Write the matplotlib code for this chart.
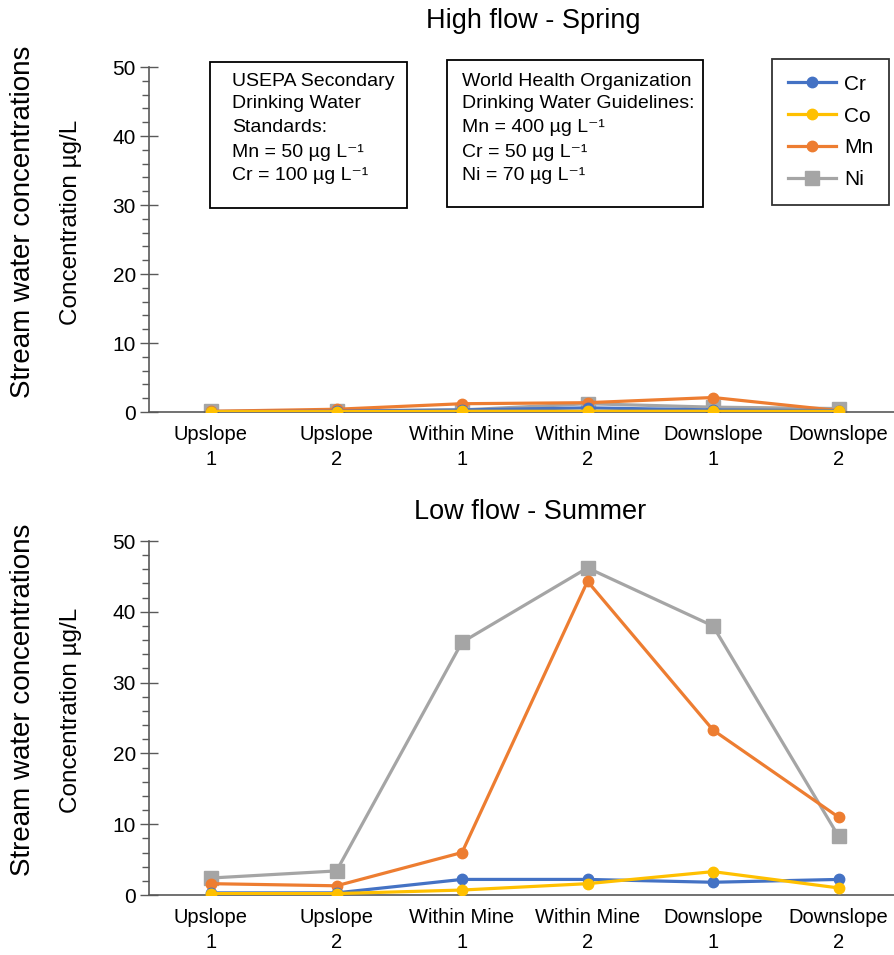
import matplotlib
matplotlib.use('Agg')
import matplotlib.pyplot as plt
from matplotlib.patches import Rectangle
from matplotlib.lines import Line2D

plt.rcParams['font.family'] = ['Liberation Sans', 'DejaVu Sans']

# sampling sites
sites = ['Upslope\n1', 'Upslope\n2', 'Within Mine\n1', 'Within Mine\n2',
         'Downslope\n1', 'Downslope\n2']

# high flow - spring (ug/L)
spring_cr = [0.05, 0.1, 0.3, 0.6, 0.3, 0.2]
spring_co = [0.05, 0.05, 0.1, 0.1, 0.1, 0.1]
spring_mn = [0.1, 0.4, 1.2, 1.35, 2.1, 0.2]
spring_ni = [0.1, 0.2, 0.3, 1.2, 0.7, 0.5]

# low flow - summer (ug/L)
summer_cr = [0.3, 0.3, 2.2, 2.2, 1.8, 2.2]
summer_co = [0.2, 0.2, 0.7, 1.6, 3.3, 1.0]
summer_mn = [1.6, 1.3, 6.0, 44.3, 23.3, 11.0]
summer_ni = [2.4, 3.4, 35.7, 46.2, 38.0, 8.3]

# guideline text boxes
usepa_lines = ['USEPA Secondary', 'Drinking Water', 'Standards:',
               'Mn = 50 µg L⁻¹', 'Cr = 100 µg L⁻¹']
who_lines = ['World Health Organization', 'Drinking Water Guidelines:',
             'Mn = 400 µg L⁻¹', 'Cr = 50 µg L⁻¹', 'Ni = 70 µg L⁻¹']

colors = {'Cr': '#4472C4', 'Co': '#FFC000', 'Mn': '#ED7D31', 'Ni': '#A5A5A5'}
axis_col = '#595959'

fig = plt.figure(figsize=(8.95, 9.55), dpi=100)
W, H = 895, 955


def fxy(px, py):
    # pixel position (from top-left) -> figure fraction
    return px / W, 1 - py / H


def px_axes(x0, x1, ytop, ybot):
    return [x0 / W, 1 - ybot / H, (x1 - x0) / W, (ybot - ytop) / H]


def draw_panel(ax, cr, co, mn, ni):
    x = range(len(sites))
    # Ni and Mn first so the small series sit on top
    ax.plot(x, ni, color=colors['Ni'], lw=2.3, marker='s', ms=10, zorder=2)
    ax.plot(x, mn, color=colors['Mn'], lw=2.3, marker='o', ms=7.5, zorder=3)
    ax.plot(x, cr, color=colors['Cr'], lw=2.3, marker='o', ms=7.5, zorder=4)
    ax.plot(x, co, color=colors['Co'], lw=2.3, marker='o', ms=7.5, zorder=5)
    ax.set_xlim(-0.494, 5.45)
    ax.set_ylim(0, 50)
    ax.set_yticks([0, 10, 20, 30, 40, 50])
    ax.set_yticks([v for v in range(0, 51, 2) if v % 10], minor=True)
    ax.set_xticks(list(x))
    ax.set_xticklabels(sites, linespacing=1.45)
    ax.tick_params(axis='x', length=0, pad=9, labelsize=14.5)
    ax.tick_params(axis='y', which='major', direction='inout', length=13,
                   width=1, color=axis_col, labelsize=15, pad=3)
    ax.tick_params(axis='y', which='minor', direction='out', length=5,
                   width=1, color=axis_col)
    for s in ['top', 'right']:
        ax.spines[s].set_visible(False)
    for s in ['left', 'bottom']:
        ax.spines[s].set_color(axis_col)
        ax.spines[s].set_linewidth(1.2)


ax1 = fig.add_axes(px_axes(149, 895, 67, 412))
ax2 = fig.add_axes(px_axes(149, 895, 541, 895))
draw_panel(ax1, spring_cr, spring_co, spring_mn, spring_ni)
draw_panel(ax2, summer_cr, summer_co, summer_mn, summer_ni)

# titles
fig.text(*fxy(533, 21), 'High flow - Spring', fontsize=19.5, ha='center', va='center')
fig.text(*fxy(530, 512), 'Low flow - Summer', fontsize=19.5, ha='center', va='center')

# axis labels
for yc, yi in [(222, 222), (700, 710)]:
    fig.text(*fxy(23, yc), 'Stream water concentrations', rotation=90,
             fontsize=20, ha='center', va='center')
    fig.text(*fxy(71, yi), 'Concentration µg/L', rotation=90,
             fontsize=17.5, ha='center', va='center')

# boxes with guideline values
fig.add_artist(Rectangle(fxy(210, 208), 197 / W, 146 / H, transform=fig.transFigure,
                         fill=False, ec='black', lw=1.3))
fig.add_artist(Rectangle(fxy(447, 207), 256 / W, 147 / H, transform=fig.transFigure,
                         fill=False, ec='black', lw=1.3))
line_y = [79, 102, 126, 150, 173]
for txt, yy in zip(usepa_lines, line_y):
    fig.text(*fxy(232, yy), txt, fontsize=14, ha='left', va='center_baseline')
for txt, yy in zip(who_lines, line_y):
    fig.text(*fxy(462, yy), txt, fontsize=14, ha='left', va='center_baseline')

# legend
handles = [
    Line2D([], [], color=colors['Cr'], lw=2.3, marker='o', ms=7.5),
    Line2D([], [], color=colors['Co'], lw=2.3, marker='o', ms=7.5),
    Line2D([], [], color=colors['Mn'], lw=2.3, marker='o', ms=7.5),
    Line2D([], [], color=colors['Ni'], lw=2.3, marker='s', ms=10),
]
leg = fig.legend(handles, ['Cr', 'Co', 'Mn', 'Ni'], loc='upper right',
                 bbox_to_anchor=fxy(889, 59), fontsize=15,
                 frameon=True, fancybox=False, edgecolor='black',
                 handlelength=2.3, labelspacing=0.62, borderpad=0.75,
                 handletextpad=0.4, borderaxespad=0)
leg.get_frame().set_linewidth(1.3)

fig.savefig('out.png', dpi=100)
